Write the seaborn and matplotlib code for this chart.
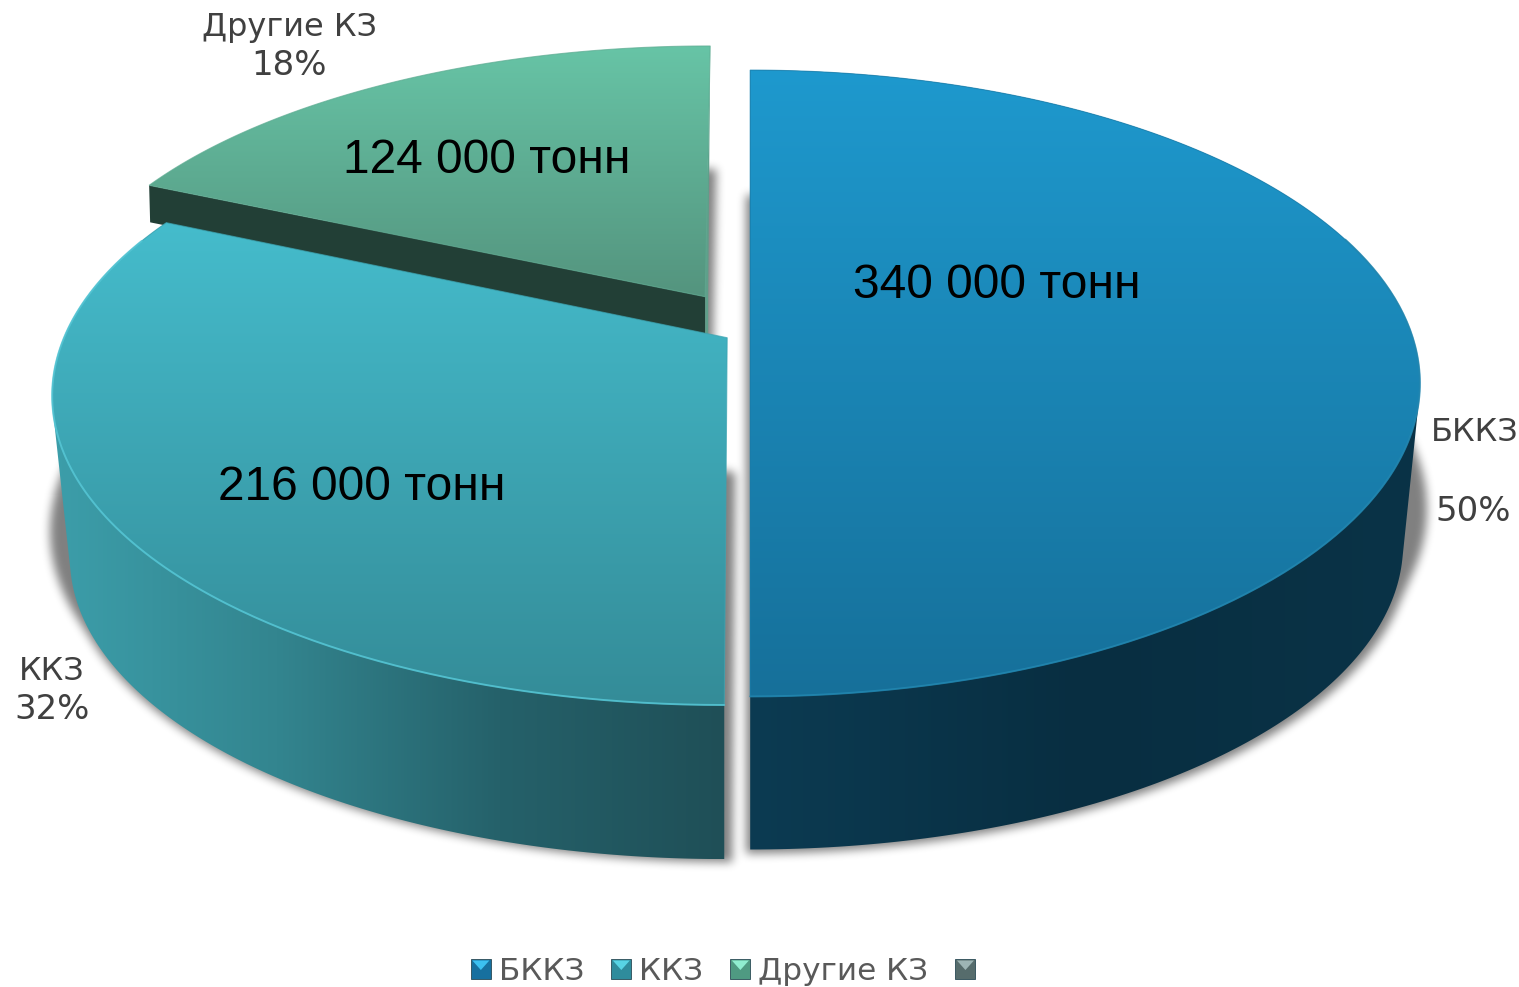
import numpy as np
import matplotlib
matplotlib.use("Agg")
import matplotlib.pyplot as plt
from matplotlib.patches import Polygon, Rectangle
from matplotlib.legend_handler import HandlerBase
import seaborn as sns

categories = ["БККЗ", "ККЗ", "Другие КЗ"]
tonnes = [340000, 216000, 124000]
legend_labels = ["БККЗ", "ККЗ", "Другие КЗ", " "]
unit = "тонн"

top_colors = [["#1E99CE", "#16709A"], ["#45BCCC", "#348C98"], ["#67C4A6", "#54947E"]]
side_colors = [["#0C3B52", "#082E41", "#0A3347"],
               ["#3C9EAA", "#33858F", "#25616A", "#1F4F57"],
               ["#5F9F8A", "#5F9F8A"]]
cut_colors = [None, None, "#223F36"]
rim_colors = ["#2387B0", "#58C9D8", "#7ACBB2"]
legend_colors = [("#17709F", "#3CC0F0"), ("#2F8C9C", "#58D4E4"), ("#4F9A82", "#90EDD0"), ("#566C6C", "#9DB5B5")]

W, H = 1519, 987
FIGSIZE = ((W + 0.4) / 100, (H + 0.4) / 100)
# projection of the unit disc
R, S = 663.0, 307.0
geom = [
    dict(ax=750, ay=340, k=0.139, sx=1.000, sy=1.000, shear=0.000, depth=153, b=0.975, sh=(0, 122), shdx=-4),
    dict(ax=727, ay=338, k=0.183, sx=1.000, sy=0.977, shear=0.008, depth=154, b=0.97, sh=(0, 132), shdx=8),
    dict(ax=705, ay=297, k=0.139, sx=0.977, sy=0.930, shear=0.020, depth=37, b=1.00, sh=(0, 120), shdx=6),
]

sns.set_theme(style="white")
fig = plt.figure(figsize=FIGSIZE, dpi=100, facecolor="white")
ax = fig.add_axes([0, 0, 1, 1])
ax.set_axis_off()


def top_pts(g, th):
    u, v = np.cos(th), np.sin(th)
    w = 1 + g["k"] * v
    y = g["ay"] - S * g["sy"] * v / w
    x = g["ax"] + R * g["sx"] * u / w + g["shear"] * (g["ay"] - y)
    return np.column_stack([x, y])


def bottom_pts(g, th, depth=None):
    depth = g["depth"] if depth is None else depth
    u, v = np.cos(th), np.sin(th)
    w = 1 + g["k"] * v
    sb = S * g["sy"] * g["b"]
    front = g["ay"] + S * g["sy"] / (1 - g["k"])
    ay_b = front + depth - sb / (1 - g["k"])
    x0 = g["ax"] - g["shear"] * S * g["sy"] / (1 - g["k"])
    return np.column_stack([x0 + R * g["sx"] * g["b"] * u / w, ay_b - sb * v / w])


def hull(points):
    pts = sorted(map(tuple, points))
    def half(seq):
        out = []
        for p in seq:
            while len(out) > 1 and ((out[-1][0] - out[-2][0]) * (p[1] - out[-2][1])
                                    - (out[-1][1] - out[-2][1]) * (p[0] - out[-2][0])) <= 0:
                out.pop()
            out.append(p)
        return out[:-1]
    return np.array(half(pts) + half(pts[::-1]))


def gradient_fill(poly, colors, z, vertical=True):
    cmap = sns.blend_palette(colors, as_cmap=True)
    x0, y0 = poly.min(axis=0)
    x1, y1 = poly.max(axis=0)
    grad = np.linspace(0, 1, 256)
    data = grad[:, None] if vertical else grad[None, :]
    im = ax.imshow(data, cmap=cmap, extent=(x0, x1, y1, y0), origin="upper",
                   aspect="auto", zorder=z, interpolation="bilinear")
    patch = Polygon(poly, closed=True, facecolor="none", edgecolor="none", transform=ax.transData)
    ax.add_patch(patch)
    im.set_clip_path(patch)


def poly_mask(poly):
    f = plt.figure(figsize=FIGSIZE, dpi=100)
    a = f.add_axes([0, 0, 1, 1])
    a.set_axis_off()
    a.set_xlim(0, W)
    a.set_ylim(H, 0)
    a.add_patch(Polygon(poly, closed=True, facecolor="black", edgecolor="none"))
    f.canvas.draw()
    m = 1.0 - np.asarray(f.canvas.buffer_rgba())[..., 0] / 255.0
    plt.close(f)
    return m


def box_blur(m, r, passes=3):
    for axis in (0, 1):
        for _ in range(passes):
            pad = [(0, 0), (0, 0)]
            pad[axis] = (r + 1, r)
            c = np.cumsum(np.pad(m, pad, mode="edge"), axis=axis)
            hi = np.take(c, np.arange(2 * r + 1, c.shape[axis]), axis=axis)
            lo = np.take(c, np.arange(0, c.shape[axis] - 2 * r - 1), axis=axis)
            m = (hi - lo) / (2 * r + 1)
    return m


# slice angles, clockwise from 12 o'clock
total = sum(tonnes)
shares = [t / total for t in tonnes]
starts = np.pi / 2 - 2 * np.pi * np.cumsum([0] + shares[:-1])
spans = [2 * np.pi * s for s in shares]
arcs = [np.linspace(a, a - s, 240) for a, s in zip(starts, spans)]

# soft shadows
clear = np.ones((H, W))
for g, th in zip(geom, arcs):
    tp = top_pts(g, th)
    apex = np.array([[g["ax"], g["ay"]]])
    low = np.vstack([tp, apex]) + np.array(g["sh"])
    bdepth = 153
    bot = np.vstack([bottom_pts(g, th, bdepth), [[g["ax"], g["ay"] + bdepth]]])
    poly = hull(np.vstack([low, bot]))
    poly[:, 0] = g["ax"] + (poly[:, 0] - g["ax"]) * 1.015 + g["shdx"]
    poly[:, 1] += 4
    clear *= 1 - 0.5 * box_blur(poly_mask(poly), 4)
shadow = np.zeros((H, W, 4))
shadow[..., 3] = 1 - clear
ax.imshow(shadow, extent=(0, W, H, 0), origin="upper", aspect="auto", zorder=1, interpolation="nearest")

# slices, back to front
order = [2, 1, 0]
z = 2
for i in order:
    g, th = geom[i], arcs[i]
    tp = top_pts(g, th)
    bp = bottom_pts(g, th)
    apex = np.array([[g["ax"], g["ay"]]])
    if cut_colors[i]:
        ax.add_patch(Polygon(np.vstack([tp[0], apex[0], apex[0] + [0, g["depth"]], tp[0] + [1, g["depth"]]]),
                             closed=True, facecolor=cut_colors[i], edgecolor="none", zorder=z))
        ax.add_patch(Polygon(np.vstack([tp[-1], apex[0] + [3, 0], apex[0] + [3, g["depth"]],
                                        apex[0] + [0, g["depth"]], apex[0]]),
                             closed=True, facecolor=side_colors[i][0], edgecolor="none", zorder=z))
        z += 1
    else:
        gradient_fill(hull(np.vstack([tp, bp])), side_colors[i], z, vertical=False)
        z += 1
    face = np.vstack([tp, apex])
    gradient_fill(face, top_colors[i], z)
    z += 1
    ax.add_patch(Polygon(face, closed=True, facecolor="none", edgecolor=sns.blend_palette(top_colors[i], 3)[1],
                         lw=0.8, alpha=0.7, zorder=z))
    front = th[np.sin(th) < 0.35]
    ax.plot(*top_pts(g, front).T, color=rim_colors[i], lw=1.4, alpha=0.8, zorder=z + 0.5)
    z += 1

# value labels
value_xy = [(997, 285), (362, 487), (487, 160)]
for t, (x, y) in zip(tonnes, value_xy):
    ax.text(x, y, f"{t:,}".replace(",", " ") + " " + unit, ha="center", va="center",
            fontsize=34.5, family="Liberation Sans", color="black", zorder=50)

# category labels
name_xy = [(1474, 432), (52, 671), (289, 27)]
pct_xy = [(1473, 511), (52, 709), (289, 65)]
for c, s, nxy, pxy in zip(categories, shares, name_xy, pct_xy):
    ax.text(*nxy, c, ha="center", va="center", fontsize=23, family="DejaVu Sans", color="#404040", zorder=50)
    ax.text(*pxy, f"{s:.0%}", ha="center", va="center", fontsize=24.4, family="DejaVu Sans", color="#404040", zorder=50)


class BevelHandler(HandlerBase):
    def create_artists(self, legend, orig, xd, yd, width, height, fontsize, trans):
        dark, light = orig.get_facecolor(), orig.get_edgecolor()
        side = min(width, height)
        x0 = xd * -1 + (width - side) / 2
        y0 = yd * -1 + (height - side) / 2
        sq = Rectangle((x0, y0), side, side, facecolor=dark, edgecolor="#2a4a55", lw=0.6, transform=trans)
        tri = Polygon([[x0 + 1, y0 + side - 1], [x0 + side - 1, y0 + side - 1], [x0 + side / 2, y0 + side * 0.45]],
                      closed=True, facecolor=light, edgecolor="none", transform=trans)
        return [sq, tri]


handles = [Rectangle((0, 0), 1, 1, facecolor=d, edgecolor=l) for d, l in legend_colors]
leg = ax.legend(handles, legend_labels, ncols=4, loc="lower left", bbox_to_anchor=(449 / W, -0.021),
                bbox_transform=ax.transAxes, frameon=False, fontsize=22.4, labelcolor="#595959",
                handler_map={Rectangle: BevelHandler()}, handlelength=0.64, handleheight=0.64,
                handletextpad=0.26, columnspacing=0.87, borderpad=0.2)
for t in leg.get_texts():
    t.set_family("DejaVu Sans")
leg.set_zorder(60)

ax.set_xlim(0, W)
ax.set_ylim(H, 0)
fig.savefig("out.png", dpi=100, facecolor="white")
